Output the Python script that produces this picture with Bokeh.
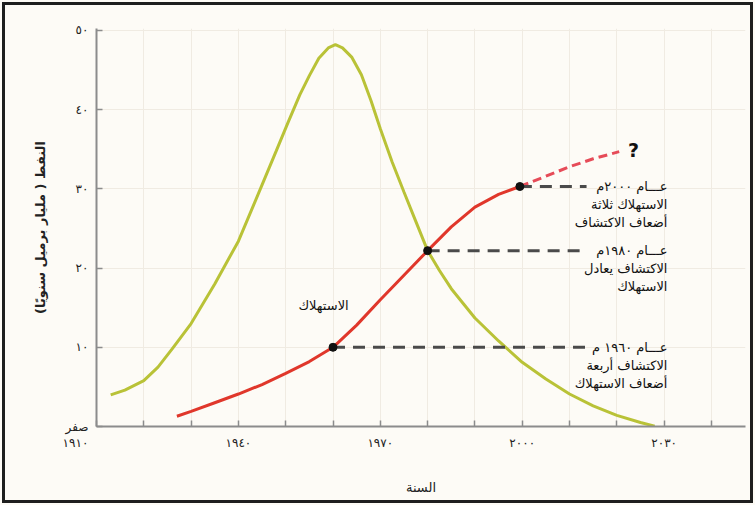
from bokeh.plotting import figure
from bokeh.models import Range1d, FixedTicker, ColumnDataSource
from bokeh.core.properties import value
from bokeh.embed import file_html
from bokeh.resources import INLINE

# --- data (year, billion barrels per year) ---
discovery_years = [1913, 1916, 1920, 1923, 1926, 1930, 1935, 1940, 1945, 1948,
                   1950.5, 1953, 1955, 1957, 1959, 1960.5, 1962, 1964, 1966,
                   1968, 1970, 1972.5, 1975, 1977.5, 1980, 1982.5, 1985, 1990,
                   1995, 2000, 2005, 2010, 2015, 2020, 2025, 2028]
discovery = [4.0, 4.6, 5.8, 7.5, 9.8, 13.0, 18.0, 23.4, 30.5, 34.8,
             38.4, 41.9, 44.3, 46.5, 47.8, 48.2, 47.8, 46.6, 44.4,
             41.2, 37.6, 33.4, 29.6, 25.9, 22.2, 19.7, 17.4, 13.7,
             10.8, 8.1, 6.0, 4.1, 2.6, 1.4, 0.5, 0.05]

consumption_years = [1927, 1930, 1935, 1940, 1945, 1950, 1955, 1960, 1965,
                     1970, 1975, 1980, 1985, 1990, 1995, 1999.5]
consumption = [1.3, 1.9, 3.0, 4.1, 5.3, 6.7, 8.2, 10.0, 12.8,
               16.0, 19.1, 22.2, 25.2, 27.7, 29.3, 30.3]

forecast_years = [1999.5, 2005, 2010, 2015, 2020.5]
forecast = [30.3, 31.6, 32.8, 33.8, 34.7]

marker_years = [1960, 1980, 1999.5]
marker_values = [10.0, 22.2, 30.3]

note_lines = [
    ["عـــام ٢٠٠٠م", "الاستهلاك ثلاثة", "أضعاف الاكتشاف"],
    ["عـــام ١٩٨٠م", "الاكتشاف يعادل", "الاستهلاك"],
    ["عـــام ١٩٦٠ م", "الاكتشاف أربعة", "أضعاف الاستهلاك"],
]
note_values = [30.3, 22.2, 10.0]

x_ticks = [1910, 1920, 1930, 1940, 1950, 1960, 1970, 1980, 1990, 2000, 2010, 2020, 2030, 2040]
# em-spaces after ١٩١٠ push it left, under "صفر"
x_tick_labels = {1910: "١٩١٠\u2003\u2003\u2003\u2002", 1940: "١٩٤٠", 1970: "١٩٧٠",
                 2000: "٢٠٠٠", 2030: "٢٠٣٠"}
y_ticks = [0, 10, 20, 30, 40, 50]
y_tick_labels = ["صفر", "١٠", "٢٠", "٣٠", "٤٠", "٥٠"]

FONT = "DejaVu Sans"
BG = "#fdfbf6"

p = figure(width=755, height=505,
           x_range=Range1d(1910, 2047.2), y_range=Range1d(0, 50.25),
           output_backend="svg", toolbar_location=None,
           min_border_left=96, min_border_right=10,
           min_border_top=28, min_border_bottom=79)
# page frame: drawn by the host element behind a transparent border area
p.styles = {"background-color": BG,
            "box-shadow": f"inset 0 0 0 2px {BG}, inset 0 0 0 5px #1e1e1e"}
p.background_fill_color = BG
p.border_fill_color = None
p.outline_line_color = None

p.grid.grid_line_color = "#f0ebe2"
p.grid.grid_line_width = 1

# axes
p.xaxis.ticker = FixedTicker(ticks=x_ticks)
p.xaxis.major_label_overrides = {t: x_tick_labels.get(t, "") for t in x_ticks}
p.yaxis.ticker = FixedTicker(ticks=y_ticks)
p.yaxis.major_label_overrides = dict(zip(y_ticks, y_tick_labels))
for ax in (p.xaxis, p.yaxis):
    ax.axis_line_color = "#8c8c8c"
    ax.axis_line_width = 2
    ax.major_tick_line_color = "#8c8c8c"
    ax.major_tick_line_width = 1.5
    ax.major_tick_in = 6
    ax.major_tick_out = 0
    ax.minor_tick_line_color = None
    ax.major_label_text_font = FONT
    ax.major_label_text_font_size = "12px"
    ax.major_label_text_color = "#222222"
    ax.axis_label_text_font = FONT
    ax.axis_label_text_color = "#222222"
p.xaxis.major_label_standoff = 9
p.yaxis.major_label_standoff = 8

p.xaxis.axis_label = "السنة"
p.xaxis.axis_label_text_font_size = "13px"
p.xaxis.axis_label_text_font_style = "normal"
p.xaxis.axis_label_standoff = 27

p.yaxis.axis_label = "النفط ( مليار برميل سنويًا)"
p.yaxis.axis_label_text_font_size = "13px"
p.yaxis.axis_label_text_font_style = "bold"
p.yaxis.axis_label_standoff = 15

# curves
p.line(discovery_years, discovery, line_color="#b9c237", line_width=3)
p.line(consumption_years, consumption, line_color="#e0372b", line_width=3)
p.line(forecast_years, forecast, line_color="#e64b58", line_width=3,
       line_dash="9 5")

# dashed leaders
p.segment(x0=marker_years, y0=marker_values,
          x1=[2013.6] * len(marker_years), y1=marker_values,
          line_color="#4a4a4a", line_width=3, line_dash="12 8")
p.scatter(marker_years, marker_values, size=8, color="#111111")

# notes
xs, ys, texts, offs = [], [], [], []
for lines, v in zip(note_lines, note_values):
    for i, t in enumerate(lines):
        xs.append(2030.7)
        ys.append(v)
        texts.append(t)
        offs.append(i * 18)
src = ColumnDataSource(dict(x=xs, y=ys, text=texts, off=offs))
p.text(x="x", y="y", text="text", y_offset="off", source=src,
       text_align="right", text_baseline="middle",
       text_font=value(FONT), text_font_size="13px", text_color="#111111")

p.text(x=[1958.0], y=[15.3], text=["الاستهلاك"], text_align="center",
       text_baseline="middle", text_font=value(FONT), text_font_size="13px",
       text_color="#111111")
p.text(x=[2023.5], y=[34.9], text=["?"], text_align="center",
       text_baseline="middle", text_font=value(FONT), text_font_size="19px",
       text_font_style="bold", text_color="#111111")

open("out.html", "w").write(file_html(p, INLINE))
